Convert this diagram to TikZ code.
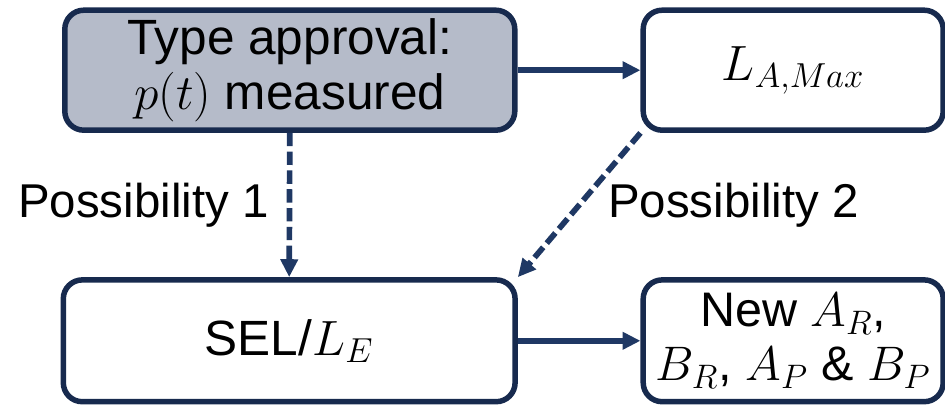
\RequirePackage{fix-cm}
\documentclass[tikz,border=0pt]{standalone}
\usepackage{fontspec}
\setmainfont{Liberation Sans}
\usepackage{tikz}
\usetikzlibrary{arrows.meta}
\definecolor{navy}{HTML}{172A4E}
\definecolor{flowblue}{HTML}{1F3864}
\definecolor{greyblue}{HTML}{B5BBC9}
\tikzset{
  box/.style={draw=navy, line width=2.6pt, rounded corners=9pt, fill=white, align=center, inner sep=0pt},
  shaded/.style={box, fill=greyblue},
  flow/.style={draw=flowblue, line width=2.7pt, -{Triangle[length=8.5pt, width=8pt]}},
  altflow/.style={flow, dash pattern=on 6.3pt off 2.6pt},
  boxtext/.style={font=\fontsize{23.5}{26}\selectfont},
  tighttext/.style={font=\fontsize{23}{25.5}\selectfont},
  label/.style={font=\fontsize{22.5}{26}\selectfont}
}
\begin{document}
\begin{tikzpicture}
		\useasboundingbox (0,0) rectangle (15.75,6.75);
		\coordinate (P) at (4.83,5.58);
		\coordinate (Q) at (13.22,5.58);
		\coordinate (R) at (4.82,1.07);
		\coordinate (S) at (13.22,1.07);
		\node[shaded, boxtext, minimum width=7.5cm, minimum height=2cm] (approval) at (P) {Type approval:\\$p(t)$ measured};
		\node[box, boxtext, minimum width=5cm, minimum height=2cm] (lamax) at (Q) {$L_{A,Max}$};
		\node[box, boxtext, minimum width=7.53cm, minimum height=2.03cm] (sel) at (R) {SEL/$L_E$};
		\node[box, tighttext, minimum width=5cm, minimum height=2.03cm] (newcoef) at (S) {New $A_R$,\\$B_R$, $A_P$ \& $B_P$};
		\draw[flow] (approval.east) -- (lamax.west);
		\draw[flow] (sel.east) -- (newcoef.west);
		\draw[altflow] (approval.south) -- (sel.north) node[label, midway, left, inner sep=0.3cm] {Possibility 1};
		\draw[altflow] (lamax.south west) -- (sel.north east) node[label, midway, anchor=west, xshift=0.32cm] {Possibility 2};
	\end{tikzpicture}
\end{document}
